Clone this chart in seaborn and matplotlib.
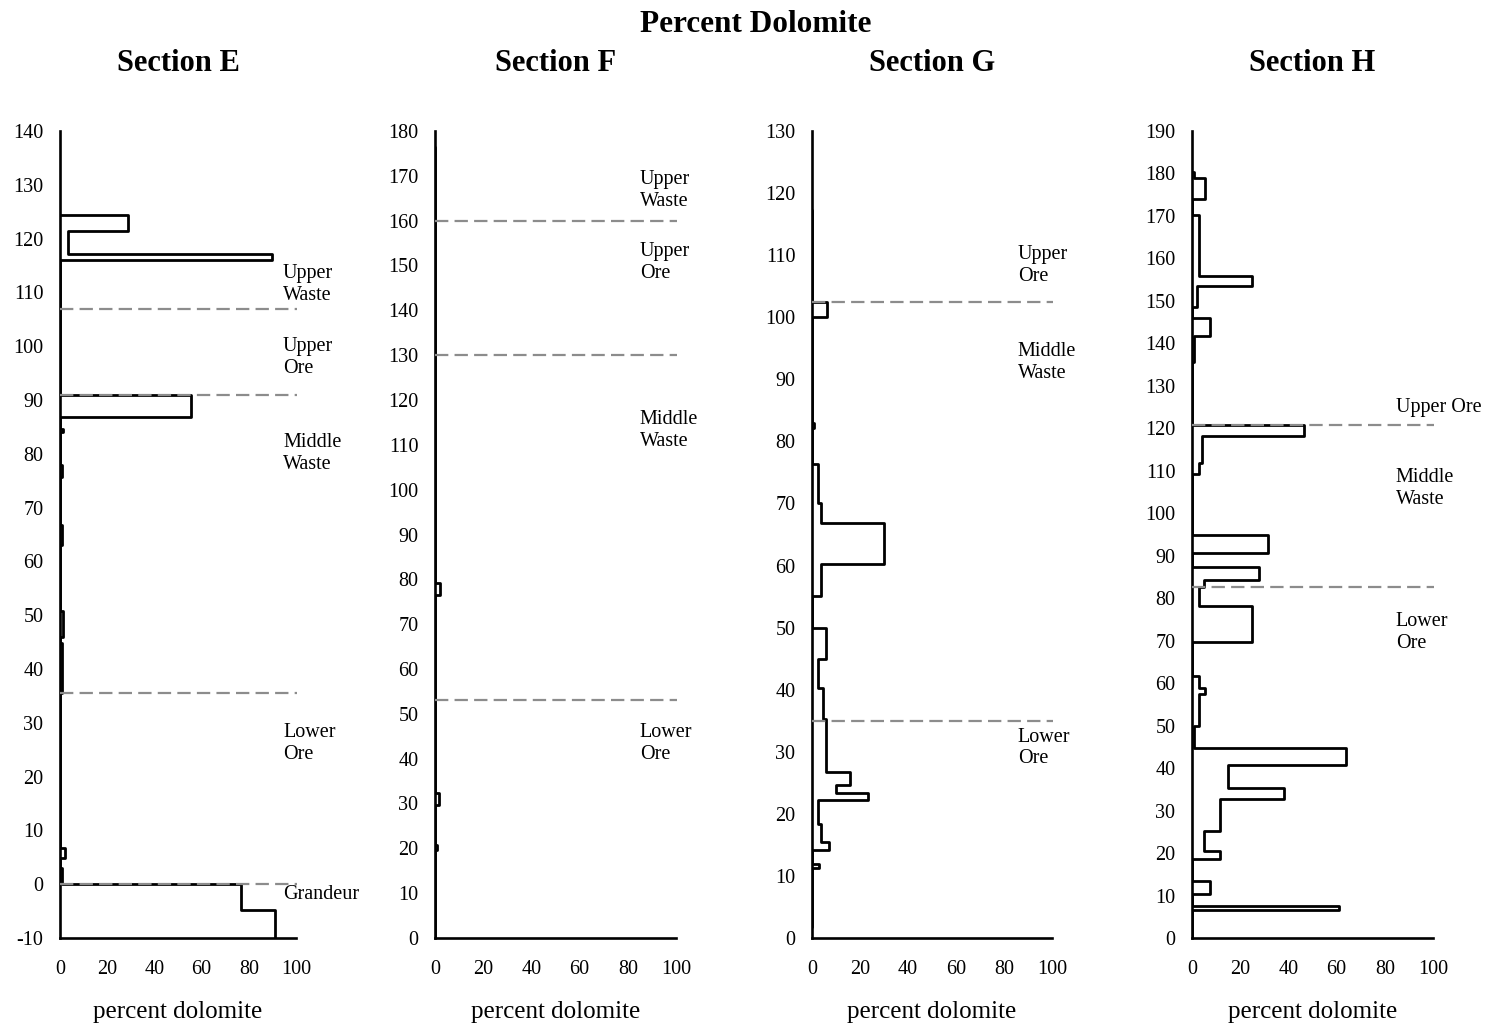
import matplotlib
matplotlib.use("Agg")
import matplotlib.pyplot as plt
import seaborn as sns
import pandas as pd

# ---------------- data ----------------
sections = ["Section E", "Section F", "Section G", "Section H"]

E_depth = [124.3, 121.5, 117.1, 116.0, 91.0, 86.9, 84.7, 84.1, 78.0, 75.7, 66.8, 63.0,
           50.7, 46.0, 44.8, 35.5, 6.8, 4.9, 3.0, 0.0, -4.8, -10]
E_val = [29, 3.5, 90, 0, 55.5, 0, 1.2, 0, 1, 0, 1, 0, 1.2, 0, 1, 0, 2.1, 0, 1, 76.5, 91]

F_depth = [176.4, 79.1, 76.4, 32.3, 29.6, 20.7, 19.6, 0]
F_val = [0, 2, 0, 1.5, 0, 1, 0]

G_depth = [117.3, 102.5, 100.0, 82.9, 82.1, 76.4, 70.0, 66.9, 60.3, 55.1, 50.0, 45.0,
           40.3, 35.3, 26.8, 24.7, 23.4, 22.2, 18.4, 15.5, 14.2, 12.0, 11.2, 1.8]
G_val = [0, 6.1, 0, 1, 0, 2.7, 3.7, 30, 3.7, 0, 5.9, 2.6, 4.7, 5.9, 15.8, 10.2, 23.5,
         2.6, 3.6, 7.2, 0, 2.8, 0]

H_depth = [180.3, 178.9, 174.0, 170.2, 155.9, 153.5, 148.5, 145.9, 141.7, 135.7, 120.8,
           118.2, 111.8, 109.2, 94.9, 90.7, 87.4, 84.3, 82.6, 78.2, 69.6, 61.6, 58.9, 57.4,
           49.9, 44.8, 40.7, 35.2, 32.7, 25.2, 20.5, 18.6, 13.5, 10.4, 7.5, 6.5, 0]
H_val = [1, 5.2, 0, 3.0, 24.9, 2.1, 0, 7.3, 1.0, 0, 46.6, 4.0, 3.0, 0, 31.4, 0, 28.0, 5.1,
         2.9, 24.9, 0, 3.0, 5.2, 3.0, 1.0, 64.0, 14.8, 38.0, 11.7, 5.1, 11.7, 0, 7.3, 0, 61, 0]

# unit boundaries (dashed lines)
E_bounds = [107, 91, 35.5, 0]
F_bounds = [160, 130, 53]
G_bounds = [102.5, 35]
H_bounds = [120.8, 82.6]

# unit labels: (text, x position in percent, depth)
E_labels = [("Upper\nWaste", 94.5, 111.4), ("Upper\nOre", 94.5, 97.9),
            ("Middle\nWaste", 94.5, 80.0), ("Lower\nOre", 94.5, 26.2),
            ("Grandeur", 94.5, -1.9)]
F_labels = [("Upper\nWaste", 85, 166.8), ("Upper\nOre", 85, 150.6),
            ("Middle\nWaste", 85, 113.2), ("Lower\nOre", 85, 43.3)]
G_labels = [("Upper\nOre", 85.8, 108.3), ("Middle\nWaste", 85.8, 92.7),
            ("Lower\nOre", 85.8, 30.6)]
H_labels = [("Upper Ore", 84.6, 125.0), ("Middle\nWaste", 84.6, 105.9),
            ("Lower\nOre", 84.6, 71.9)]

y_ranges = [(-10, 140), (0, 180), (0, 130), (0, 190)]
x_ticks = [0, 20, 40, 60, 80, 100]

# ---------------- style ----------------
sns.set_style("white")
plt.rcParams['font.family'] = ['Liberation Serif', 'DejaVu Serif']
plt.rcParams['text.color'] = 'black'
plt.rcParams['axes.labelcolor'] = 'black'
plt.rcParams['axes.unicode_minus'] = False

W, H = 1490, 1026
fig = plt.figure(figsize=(W / 100, H / 100), dpi=100)

lefts = [60, 435, 812, 1192]
rights = [296, 676, 1052, 1433]
top_px, bot_px = 131, 938

depths = [E_depth, F_depth, G_depth, H_depth]
vals = [E_val, F_val, G_val, H_val]
bounds = [E_bounds, F_bounds, G_bounds, H_bounds]
labels = [E_labels, F_labels, G_labels, H_labels]


def step_frame(d, v):
    xs, ys = [0.0], [d[0]]
    for i, val in enumerate(v):
        xs += [val, val]
        ys += [d[i], d[i + 1]]
    return pd.DataFrame({"pct": xs, "depth": ys})


for k in range(4):
    ax = fig.add_axes([lefts[k] / W, 1 - bot_px / H, (rights[k] - lefts[k]) / W,
                       (bot_px - top_px) / H])
    df = step_frame(depths[k], vals[k])
    sns.lineplot(data=df, x="pct", y="depth", sort=False, estimator=None,
                 color="black", linewidth=2.0, ax=ax, legend=False, zorder=3)
    for b in bounds[k]:
        ax.plot([0, 100.5], [b, b], color="#8c8c8c", linewidth=1.6,
                linestyle=(0, (6.0, 2.8)), clip_on=False, zorder=4)
    for txt, xx, yy in labels[k]:
        ax.text(xx, yy, txt, ha="left", va="center", fontsize=14.5,
                linespacing=1.2, clip_on=False, color="black")
    lo, hi = y_ranges[k]
    ax.set_ylim(lo, hi)
    ax.set_xlim(0, 100)
    ax.set_yticks(list(range(lo, hi + 1, 10)))
    ax.set_xticks(x_ticks)
    ax.set_xticklabels([str(t) for t in x_ticks])
    for s in ["top", "right"]:
        ax.spines[s].set_visible(False)
    for s in ["left", "bottom"]:
        ax.spines[s].set_linewidth(1.9)
        ax.spines[s].set_color("black")
    ax.tick_params(axis="both", direction="out", length=5, width=1.6,
                   labelsize=14.5, colors="black")
    ax.tick_params(axis="y", pad=7)
    ax.tick_params(axis="x", pad=11)
    ax.set_xlabel("percent dolomite", fontsize=18, labelpad=16)
    ax.set_ylabel("")
    ax.set_title(sections[k], fontsize=22, fontweight="bold", y=1.0,
                 pad=(top_px - 60) * 0.72 - 8)
    ax.grid(False)

fig.text(756 / W, 1 - 24 / H, "Percent Dolomite", ha="center", va="center",
         fontsize=22.5, fontweight="bold")

fig.savefig("out.png", dpi=100)
